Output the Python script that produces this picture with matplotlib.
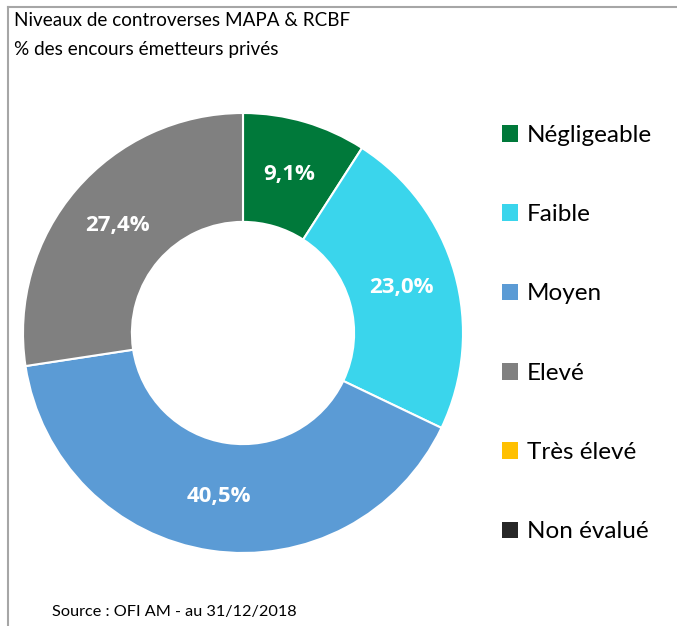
import matplotlib.pyplot as plt
from matplotlib.patches import Patch
from matplotlib.lines import Line2D

categories = ['Négligeable', 'Faible', 'Moyen', 'Elevé', 'Très élevé', 'Non évalué']
shares = [9.1, 23.0, 40.5, 27.4, 0.0, 0.0]
colors = ['#00793A', '#3AD5EC', '#5B9BD5', '#808080', '#FFC000', '#262626']

plt.rcParams['font.family'] = ['Lato', 'DejaVu Sans']

W, H = 677, 626
fig = plt.figure(figsize=(W / 100, H / 100), dpi=100)

# frame lines (top and left)
fig.add_artist(Line2D([8 / W, 1], [1 - 7 / H, 1 - 7 / H], color='#A6A6A6', lw=1.5))
fig.add_artist(Line2D([8 / W, 8 / W], [0, 1 - 7 / H], color='#A6A6A6', lw=1.5))

# donut: centre (243, 333) px, radius 220 px
ax = fig.add_axes([23 / W, 1 - 553 / H, 440 / W, 440 / H])
vals = [v for v in shares if v > 0]
cols = [c for v, c in zip(shares, colors) if v > 0]


def fmt(p):
    return f'{p:.1f}%'.replace('.', ',')


wedges, texts, autotexts = ax.pie(vals, colors=cols, startangle=90, counterclock=False,
                                  radius=1.0, autopct=fmt, pctdistance=0.75,
                                  wedgeprops=dict(width=0.495, edgecolor='white', linewidth=1.5),
                                  textprops=dict(color='white', fontsize=16, fontweight='bold',
                                                 family=['Open Sans', 'DejaVu Sans']))
ax.set_xlim(-1, 1)
ax.set_ylim(-1, 1)
ax.set_aspect('equal')

fig.text(14 / W, 1 - 21 / H, 'Niveaux de controverses MAPA & RCBF', fontsize=13.6, va='center')
fig.text(14 / W, 1 - 49 / H, '% des encours émetteurs privés', fontsize=13.6, va='center')
fig.text(52 / W, 1 - 612 / H, 'Source : OFI AM - au 31/12/2018', fontsize=11.7, va='center')

handles = [Patch(facecolor=c, edgecolor='none') for c in colors]
fig.legend(handles, categories, loc='upper left', bbox_to_anchor=(492 / W, 1 - 115 / H),
           frameon=False, fontsize=17.5, handlelength=0.68, handleheight=0.68,
           handletextpad=0.35, labelspacing=2.4, borderaxespad=0)

fig.savefig('out.png', dpi=100)
